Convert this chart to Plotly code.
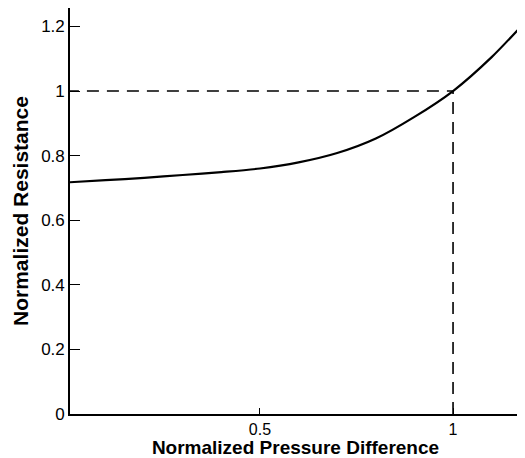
import plotly.graph_objects as go

# Curve data
pressure_diff = [0.0, 0.1, 0.2, 0.3, 0.4, 0.5, 0.6, 0.7, 0.8, 0.9, 1.0, 1.1, 1.18]
resistance = [0.717, 0.724, 0.731, 0.740, 0.749, 0.760, 0.779, 0.808, 0.853, 0.920, 1.0, 1.105, 1.205]

# Reference point (dashed guide lines)
ref_x = 1.0
ref_y = 1.0

x_tickvals = [0.5, 1]
x_ticktext = ["0.5", "1"]
y_tickvals = [0, 0.2, 0.4, 0.6, 0.8, 1.0, 1.2]
y_ticktext = ["0", "0.2", "0.4", "0.6", "0.8", "1", "1.2"]

x_title = "Normalized Pressure Difference"
y_title = "Normalized Resistance"

fig = go.Figure()

# dashed horizontal guide
fig.add_trace(go.Scatter(
    x=[0, ref_x], y=[ref_y, ref_y], mode="lines",
    line=dict(color="black", width=1.6, dash="12px,8px"),
    hoverinfo="skip", showlegend=False))
# dashed vertical guide
fig.add_trace(go.Scatter(
    x=[ref_x, ref_x], y=[0, ref_y], mode="lines",
    line=dict(color="black", width=1.6, dash="12px,8px"),
    hoverinfo="skip", showlegend=False))

fig.add_trace(go.Scatter(
    x=pressure_diff, y=resistance, mode="lines",
    line=dict(color="black", width=2.2, shape="spline", smoothing=0.8),
    showlegend=False))

font_family = "Liberation Sans, Arial, sans-serif"

# The page body has an 8px margin, so the figure is sized to fill the rest.
fig.update_layout(
    width=517, height=450,
    margin=dict(l=62, r=4, t=0, b=44),
    paper_bgcolor="white", plot_bgcolor="white",
    font=dict(family=font_family, color="black", size=18),
    xaxis=dict(
        range=[0.008, 1.176], showgrid=False, zeroline=False, automargin=False,
        showline=True, linecolor="black", linewidth=1.6,
        ticks="inside", ticklen=6, tickwidth=1.4, tickcolor="black",
        tickvals=x_tickvals, ticktext=x_ticktext,
        tickfont=dict(size=16, family=font_family),
        title=dict(text="<b>" + x_title + "</b>", standoff=3,
                   font=dict(size=19, family=font_family)),
    ),
    yaxis=dict(
        range=[0, 1.257], showgrid=False, zeroline=False, automargin=False,
        showline=True, linecolor="black", linewidth=1.6,
        ticks="inside", ticklen=10, tickwidth=1.4, tickcolor="black",
        tickvals=y_tickvals, ticktext=y_ticktext,
        tickfont=dict(size=17, family=font_family),
        title=dict(text="<b>" + y_title + "</b>", standoff=7,
                   font=dict(size=21, family=font_family)),
    ),
)

fig.write_html("out.html")
